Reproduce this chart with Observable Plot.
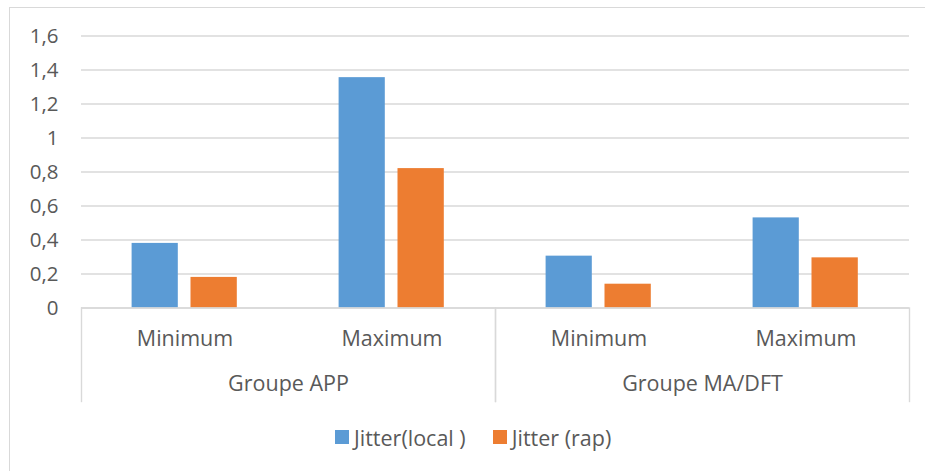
<!DOCTYPE html>
<html>
<head>
<meta charset="utf-8">
<script src="https://cdn.jsdelivr.net/npm/d3@7"></script>
<script src="https://cdn.jsdelivr.net/npm/@observablehq/plot@0.6"></script>
<style>
  html, body { margin: 0; padding: 0; background: #ffffff; }
  #wrap { position: relative; width: 925px; height: 471px; overflow: hidden; font-family: "Open Sans", sans-serif; }
  #border { position: absolute; left: 9px; top: 7px; width: 940px; height: 490px; border: 1px solid #d9d9d9; box-sizing: border-box; }
  #plot { position: absolute; left: 0; top: 0; }
  #legend { position: absolute; left: 335px; top: 424px; height: 26px; display: flex; align-items: center; font-size: 21.5px; color: #595959; white-space: pre; }
  .item { display: flex; align-items: center; }
  .item + .item { margin-left: 27px; }
  .sw { width: 14px; height: 14px; margin-right: 5px; }
</style>
</head>
<body>
<div id="wrap">
  <div id="border"></div>
  <div id="plot"></div>
  <div id="legend"></div>
</div>
<script>
// ---- data ----
const groups = ["Groupe APP", "Groupe MA/DFT"];
const stats = ["Minimum", "Maximum"];
const seriesNames = ["Jitter(local )", "Jitter (rap)"];
const jitterLocal = [0.38, 1.355, 0.305, 0.53];
const jitterRap = [0.18, 0.82, 0.14, 0.295];
const yTicks = [0, 0.2, 0.4, 0.6, 0.8, 1, 1.2, 1.4, 1.6];
const seriesColors = ["#5B9BD5", "#ED7D31"];

// ---- table ----
const rows = [];
groups.forEach((g, gi) => {
  stats.forEach((s, si) => {
    const i = gi * stats.length + si;
    rows.push({group: g, stat: s, series: seriesNames[0], value: jitterLocal[i]});
    rows.push({group: g, stat: s, series: seriesNames[1], value: jitterRap[i]});
  });
});

const textColor = "#595959";
const gridColor = "#d9d9d9";
const fmt = d => String(d).replace(".", ",");

const chart = Plot.plot({
  width: 925,
  height: 410,
  marginLeft: 80,
  marginRight: 16,
  marginTop: 35.5,
  marginBottom: 102.5,
  style: {fontFamily: "'Open Sans', sans-serif", fontSize: "20px", color: textColor, background: "transparent", overflow: "visible"},
  fx: {domain: groups, padding: 0, axis: null, label: null},
  x: {domain: stats, padding: 0, axis: null, label: null},
  y: {domain: [0, 1.6], label: null},
  color: {domain: seriesNames, range: seriesColors},
  marks: [
    Plot.gridY(yTicks, {stroke: gridColor, strokeOpacity: 1, strokeWidth: 1.4}),
    Plot.axisY(yTicks, {tickSize: 0, tickPadding: 23, tickFormat: fmt, fill: textColor, fontSize: 20.5, label: null}),
    Plot.barY(rows.filter(d => d.series === seriesNames[0]), {
      fx: "group", x: "stat", y: "value", fill: "series",
      insetLeft: 50.6, insetRight: 110.2
    }),
    Plot.barY(rows.filter(d => d.series === seriesNames[1]), {
      fx: "group", x: "stat", y: "value", fill: "series",
      insetLeft: 109.5, insetRight: 51.2
    }),
    Plot.ruleY([0], {stroke: gridColor, strokeWidth: 1.4}),
    Plot.frame({anchor: "left", stroke: gridColor, strokeWidth: 1.4, insetTop: 272, insetBottom: -93.5}),
    Plot.frame({anchor: "right", stroke: gridColor, strokeWidth: 1.4, insetTop: 272, insetBottom: -93.5}),
    Plot.text(stats, {x: d => d, frameAnchor: "bottom", dy: 38, fill: textColor, fontSize: 21.5}),
    Plot.text(groups, {fx: d => d, frameAnchor: "bottom", dy: 83, fill: textColor, fontSize: 21.5})
  ]
});
document.getElementById("plot").appendChild(chart);

// ---- legend ----
const legend = document.getElementById("legend");
seriesNames.forEach((name, i) => {
  const item = document.createElement("div");
  item.className = "item";
  const sw = document.createElement("span");
  sw.className = "sw";
  sw.style.background = seriesColors[i];
  const label = document.createElement("span");
  label.textContent = name;
  item.appendChild(sw);
  item.appendChild(label);
  legend.appendChild(item);
});
</script>
</body>
</html>
